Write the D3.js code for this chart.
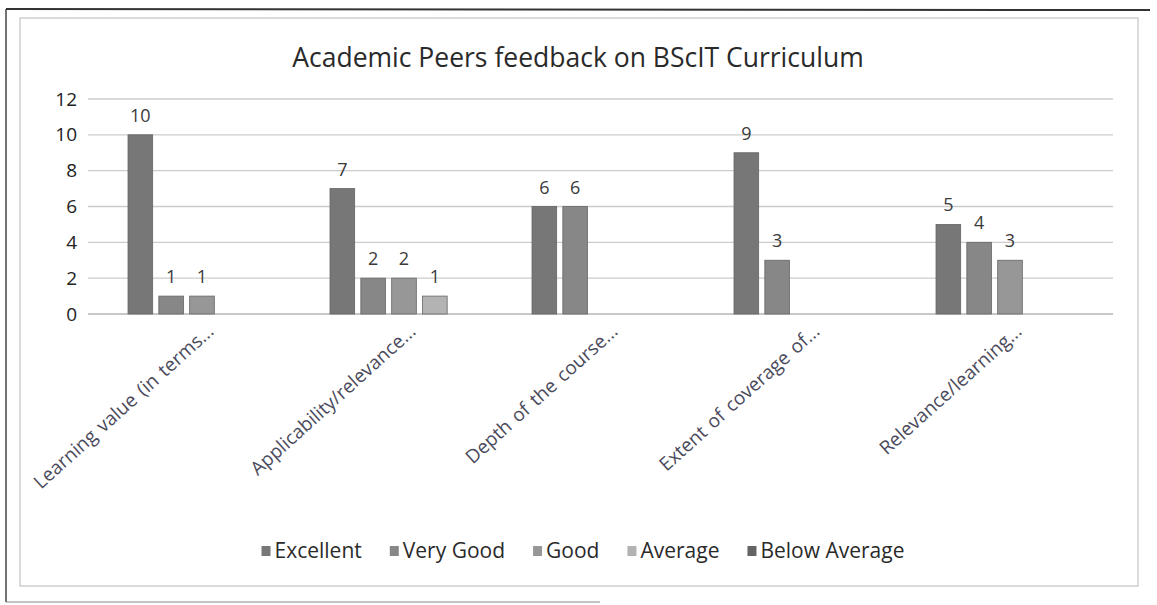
<!DOCTYPE html>
<html>
<head>
<meta charset="utf-8">
<script src="https://cdn.jsdelivr.net/npm/d3@7"></script>
<style>
    body { margin: 0; background: #fff; }
    svg text { font-family: "Open Sans", "Noto Sans", sans-serif; }
</style>
</head>
<body>
<div id="chart"><svg></svg></div>
<script>
// 分类与系列
let categories = ['Learning value (in terms...', 'Applicability/relevance...', 'Depth of the course...',
    'Extent of coverage of...', 'Relevance/learning...'];
let series = ['Excellent', 'Very Good', 'Good', 'Average', 'Below Average'];
let excellent = [10, 7, 6, 9, 5];
let very_good = [1, 2, 6, 3, 4];
let good = [1, 2, 0, 0, 3];
let average = [0, 1, 0, 0, 0];
let below_average = [0, 0, 0, 0, 0];
let y_ticks = [0, 2, 4, 6, 8, 10, 12];
let colors = ['#777777', '#878787', '#979797', '#b3b3b3', '#646464'];

let values = [excellent, very_good, good, average, below_average];

let width = 1157, height = 605;
let svg = d3.select('#chart').select('svg')
    .attr('width', width)
    .attr('height', height);

// 扫描件的外框
svg.append('line').attr('x1', 6).attr('x2', 1150).attr('y1', 9).attr('y2', 10)
    .attr('stroke', '#333').attr('stroke-width', 2);
svg.append('line').attr('x1', 6).attr('x2', 6).attr('y1', 9).attr('y2', 602)
    .attr('stroke', '#444').attr('stroke-width', 1.5);
svg.append('line').attr('x1', 6).attr('x2', 600).attr('y1', 602).attr('y2', 602)
    .attr('stroke', '#888').attr('stroke-width', 1);
svg.append('rect')
    .attr('x', 20).attr('y', 18).attr('width', 1118).attr('height', 568)
    .attr('fill', 'none').attr('stroke', '#cfcfcf').attr('stroke-width', 1.5);

// 标题
svg.append('text')
    .attr('x', 578).attr('y', 67)
    .attr('text-anchor', 'middle')
    .attr('font-size', '26.5px')
    .attr('fill', '#2a2a2a')
    .text('Academic Peers feedback on BScIT Curriculum');

let plot = { left: 88, right: 1113, top: 99, bottom: 314 };

let x0 = d3.scaleBand()
    .domain(categories)
    .range([99, 1109]);
let x1 = d3.scaleBand()
    .domain(series)
    .range([29, 177])
    .paddingInner(0.2);
let y = d3.scaleLinear()
    .domain([0, 12])
    .range([plot.bottom, plot.top]);

// 网格线
svg.append('g')
    .selectAll('line')
    .data(y_ticks)
    .enter().append('line')
    .attr('x1', plot.left).attr('x2', plot.right)
    .attr('y1', d => y(d)).attr('y2', d => y(d))
    .attr('stroke', d => d === 0 ? '#b5b5b5' : '#cccccc')
    .attr('stroke-width', 1.3);

// y轴
let axis_y = d3.axisLeft(y).tickValues(y_ticks).tickSize(0).tickPadding(0);
let gy = svg.append('g')
    .attr('transform', `translate(${plot.left - 11}, 0)`)
    .call(axis_y);
gy.select('.domain').remove();
gy.selectAll('text')
    .attr('font-size', '19px')
    .attr('fill', '#222');

// 柱子
let groups = svg.append('g')
    .selectAll('g')
    .data(categories)
    .enter().append('g')
    .attr('transform', d => `translate(${x0(d)}, 0)`);

let bar_data = (d, i) => series.map((s, j) => ({ s: s, v: values[j][i], j: j }))
    .filter(e => e.v > 0);

groups.selectAll('rect')
    .data(bar_data)
    .enter().append('rect')
    .attr('x', d => x1(d.s))
    .attr('y', d => y(d.v))
    .attr('width', x1.bandwidth())
    .attr('height', d => y(0) - y(d.v))
    .attr('fill', d => colors[d.j])
    .attr('stroke', '#666')
    .attr('stroke-width', 0.8);

// 数据标签
groups.selectAll('text')
    .data(bar_data)
    .enter().append('text')
    .attr('x', d => x1(d.s) + x1.bandwidth() / 2)
    .attr('y', d => y(d.v) - 13)
    .attr('text-anchor', 'middle')
    .attr('font-size', '18px')
    .attr('fill', '#3a3a3a')
    .text(d => d.v);

// x轴标签（斜放）
svg.append('g')
    .selectAll('text')
    .data(categories)
    .enter().append('text')
    .attr('transform', d => `translate(${x0(d) + x0.bandwidth() / 2 + 15}, 333) rotate(-42)`)
    .attr('text-anchor', 'end')
    .attr('font-size', '19px')
    .attr('word-spacing', '2px')
    .attr('fill', '#4b4b5c')
    .text(d => d);

// 图例
let legend = svg.append('g').attr('transform', 'translate(0, 551)');
let items = legend.selectAll('g')
    .data(series)
    .enter().append('g');
items.append('rect')
    .attr('y', -5).attr('width', 9).attr('height', 10)
    .attr('fill', (d, i) => colors[i]);
items.append('text')
    .attr('x', 13).attr('y', 0)
    .attr('dy', '0.35em')
    .attr('font-size', '21px')
    .attr('fill', '#2a2a2a')
    .text(d => d);
let widths = [];
items.each(function () { widths.push(this.getBBox().width); });
let gap = 28;
let total = d3.sum(widths) + gap * (widths.length - 1);
let cur = 583 - total / 2;
items.attr('transform', (d, i) => {
    let t = `translate(${cur}, 0)`;
    cur += widths[i] + gap;
    return t;
});
</script>
</body>
</html>
